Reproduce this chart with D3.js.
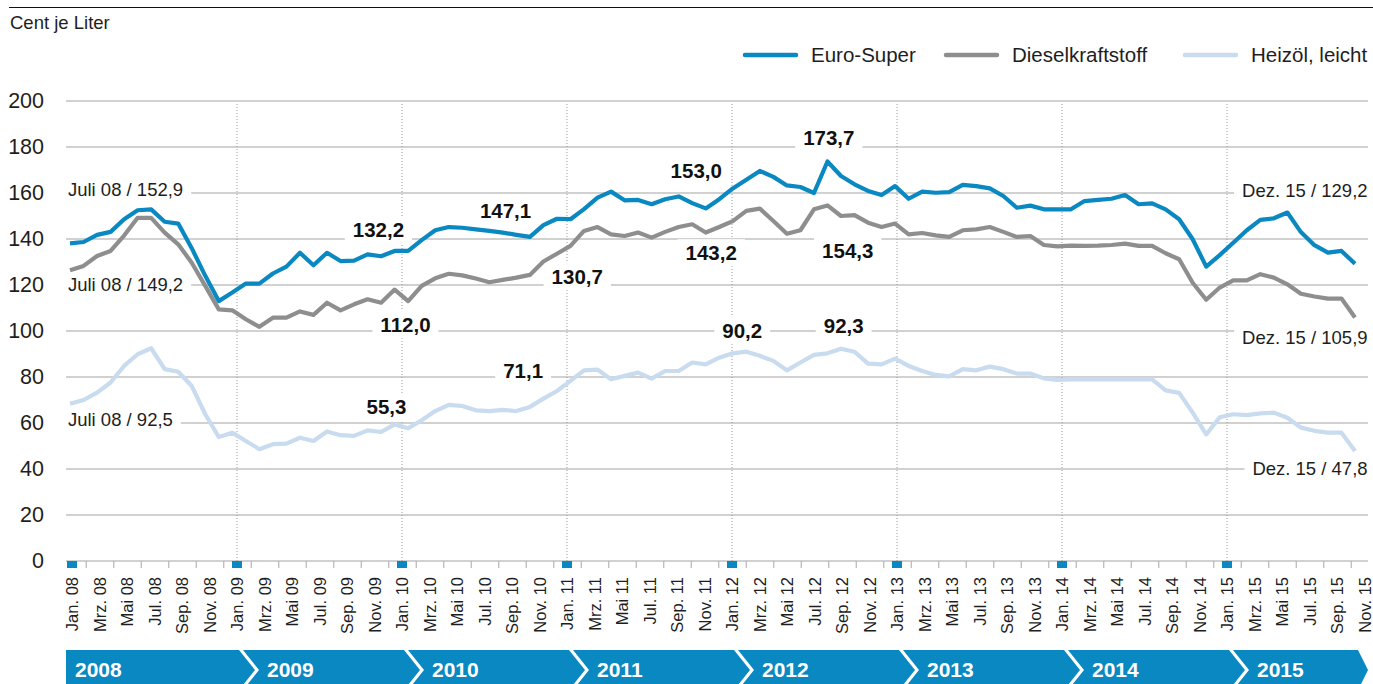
<!DOCTYPE html>
<html>
<head>
<meta charset="utf-8">
<script src="https://cdn.jsdelivr.net/npm/d3@7"></script>
<style>
  body { margin: 0; background: #fff; }
  svg { display: block; }
  svg text { font-family: 'Liberation Sans', Arial, sans-serif; }
</style>
</head>
<body>
<div id="chart"></div>
<script>
'use strict'

// Monatswerte Jan. 08 bis Dez. 15, Cent je Liter
const euroSuper = [
    138.1, 138.7, 141.8, 143.1, 148.6, 152.5, 152.9, 147.5, 146.7, 136.0, 124.0, 113.0,
    116.7, 120.6, 120.6, 125.0, 128.0, 134.0, 128.6, 134.0, 130.4, 130.6, 133.3, 132.5,
    134.8, 134.8, 139.5, 143.8, 145.2, 144.9, 144.2, 143.5, 142.8, 141.8, 140.9, 146.0,
    148.8, 148.6, 153.0, 158.0, 160.6, 156.8, 157.0, 155.1, 157.3, 158.5, 155.6, 153.3,
    157.3, 162.0, 165.8, 169.6, 167.0, 163.3, 162.6, 160.0, 173.7, 167.4, 163.8, 160.9,
    159.1, 163.0, 157.5, 160.6, 160.1, 160.4, 163.5, 163.0, 162.0, 158.7, 153.6, 154.5,
    152.9, 152.9, 152.9, 156.5, 157.0, 157.5, 159.1, 155.1, 155.5, 152.9, 148.6, 139.9,
    128.0, 133.0, 138.4, 143.8, 148.3, 149.0, 151.5, 143.0, 137.3, 134.1, 134.8, 129.2
]

const diesel = [
    126.4, 128.3, 132.6, 134.8, 141.5, 149.2, 149.2, 142.8, 137.7, 129.7, 119.6, 109.4,
    109.0, 105.1, 101.8, 105.8, 105.8, 108.5, 107.0, 112.3, 109.0, 111.6, 113.8, 112.3,
    118.0, 113.0, 119.6, 122.9, 124.9, 124.2, 122.8, 121.2, 122.2, 123.2, 124.4, 130.2,
    133.6, 137.0, 143.5, 145.2, 142.0, 141.3, 142.8, 140.6, 143.1, 145.2, 146.4, 142.8,
    145.2, 147.8, 152.2, 153.2, 147.8, 142.3, 143.8, 152.9, 154.6, 150.0, 150.4, 147.1,
    145.2, 146.7, 142.0, 142.6, 141.6, 140.9, 143.8, 144.2, 145.2, 143.1, 140.9, 141.3,
    137.4, 136.8, 137.1, 137.0, 137.1, 137.4, 138.0, 137.0, 137.0, 133.8, 131.2, 121.0,
    113.6, 118.9, 122.0, 122.0, 124.7, 123.2, 120.3, 116.2, 115.0, 114.1, 114.1, 105.9
]

const heizoel = [
    68.4, 70.0, 73.2, 77.6, 84.8, 89.9, 92.5, 83.4, 82.3, 76.1, 63.8, 53.9,
    55.8, 52.2, 48.6, 50.8, 51.0, 53.6, 52.2, 56.3, 54.7, 54.4, 56.8, 56.1,
    59.4, 57.7, 61.2, 65.2, 67.9, 67.4, 65.5, 65.2, 65.7, 65.2, 67.0, 70.6,
    73.9, 78.3, 82.9, 83.2, 79.0, 80.5, 81.9, 79.3, 82.6, 82.6, 86.3, 85.5,
    88.4, 90.3, 91.0, 89.2, 87.0, 82.9, 86.3, 89.6, 90.3, 92.3, 91.0, 85.8,
    85.5, 88.0, 84.8, 82.6, 80.9, 80.3, 83.4, 82.9, 84.5, 83.4, 81.5, 81.5,
    79.4, 78.7, 79.0, 79.0, 79.0, 79.0, 79.0, 79.0, 79.0, 74.2, 73.1, 64.5,
    55.0, 62.5, 63.8, 63.4, 64.2, 64.5, 62.3, 58.0, 56.6, 55.8, 55.8, 47.8
]

const seriesNames = ['Euro-Super', 'Dieselkraftstoff', 'Heizöl, leicht']
const monthNames = ['Jan.', 'Mrz.', 'Mai', 'Jul.', 'Sep.', 'Nov.']
const yearShort = ['08', '09', '10', '11', '12', '13', '14', '15']
const years = ['2008', '2009', '2010', '2011', '2012', '2013', '2014', '2015']
const yTicks = [0, 20, 40, 60, 80, 100, 120, 140, 160, 180, 200]

// Beschriftungen im Diagramm: Monat (Index) und Wert als Ankerpunkt
const notes = [
    { text: 'Juli 08 / 152,9', m: -0.15, v: 161.7, bold: false, anchor: 'start' },
    { text: 'Juli 08 / 149,2', m: -0.15, v: 120.4, bold: false, anchor: 'start' },
    { text: 'Juli 08 / 92,5', m: -0.15, v: 61.3, bold: false, anchor: 'start' },
    { text: '132,2', m: 22.8, v: 143.9, bold: true, anchor: 'middle' },
    { text: '112,0', m: 24.8, v: 102.6, bold: true, anchor: 'middle' },
    { text: '55,3', m: 23.4, v: 66.9, bold: true, anchor: 'middle' },
    { text: '147,1', m: 32.2, v: 152.2, bold: true, anchor: 'middle' },
    { text: '130,7', m: 37.5, v: 123.5, bold: true, anchor: 'middle' },
    { text: '71,1', m: 33.5, v: 82.6, bold: true, anchor: 'middle' },
    { text: '153,0', m: 46.3, v: 169.6, bold: true, anchor: 'middle' },
    { text: '143,2', m: 47.4, v: 133.9, bold: true, anchor: 'middle' },
    { text: '90,2', m: 49.7, v: 100.0, bold: true, anchor: 'middle' },
    { text: '173,7', m: 56.1, v: 183.9, bold: true, anchor: 'middle' },
    { text: '154,3', m: 57.5, v: 134.8, bold: true, anchor: 'middle' },
    { text: '92,3', m: 57.2, v: 102.2, bold: true, anchor: 'middle' },
    { text: 'Dez. 15 / 129,2', m: 95.93, v: 160.9, bold: false, anchor: 'end' },
    { text: 'Dez. 15 / 105,9', m: 95.93, v: 97.0, bold: false, anchor: 'end' },
    { text: 'Dez. 15 / 47,8', m: 95.93, v: 40.4, bold: false, anchor: 'end' }
]

const width = 1373,
    height = 684,
    blue = '#0a88c1',
    grey = '#8e8e8e',
    light = '#c8dbef',
    ink = '#1e1e1e',
    gridLeft = 66,
    gridRight = 1368

const colors = [blue, grey, light]
const series = [euroSuper, diesel, heizoel]

const svg = d3.select('#chart')
    .append('svg')
    .attr('width', width)
    .attr('height', height)

const y = d3.scaleLinear().domain([0, 200]).range([561, 101])
// data points and the month labels sit on slightly different spacings in the original
const x = d3.scaleLinear().domain([0, 95]).range([70, 1355])
const xTick = d3.scaleLinear().domain([0, 94]).range([72, 72 + 94 * 13.75])

// top rule and unit
svg.append('line')
    .attr('x1', 9).attr('x2', width)
    .attr('y1', 7.5).attr('y2', 7.5)
    .attr('stroke', '#111')
    .attr('stroke-width', 1.2)

svg.append('text')
    .attr('x', 10).attr('y', 29)
    .attr('font-size', 18.5)
    .attr('fill', ink)
    .text('Cent je Liter')

// legend
const legendX = [745, 946, 1185]
const legend = svg.append('g')
    .selectAll('g')
    .data(seriesNames)
    .join('g')
    .attr('transform', (d, i) => `translate(${legendX[i]},55)`)

legend.append('line')
    .attr('x1', 0).attr('x2', 51)
    .attr('stroke', (d, i) => colors[i])
    .attr('stroke-width', 4.5)
    .attr('stroke-linecap', 'round')

legend.append('text')
    .attr('x', 66).attr('dy', '0.35em')
    .attr('font-size', 20.5)
    .attr('fill', ink)
    .text(d => d)

// horizontal grid
svg.append('g')
    .selectAll('line')
    .data(yTicks)
    .join('line')
    .attr('x1', gridLeft).attr('x2', gridRight)
    .attr('y1', d => y(d)).attr('y2', d => y(d))
    .attr('stroke', '#c2c2c2')
    .attr('stroke-width', 1.5)

// y axis labels
const yAxis = svg.append('g')
    .attr('transform', 'translate(44,0)')
    .call(d3.axisLeft(y).tickValues(yTicks).tickSize(0).tickPadding(0))
yAxis.select('.domain').remove()
yAxis.selectAll('text')
    .attr('font-size', 21.5)
    .attr('fill', ink)

// dotted year separators
const janIdx = d3.range(12, 95, 12)
svg.append('g')
    .selectAll('line')
    .data(janIdx)
    .join('line')
    .attr('x1', d => xTick(d)).attr('x2', d => xTick(d))
    .attr('y1', y(200) + 3).attr('y2', y(0))
    .attr('stroke', '#9a9a9a')
    .attr('stroke-width', 1)
    .attr('stroke-dasharray', '1,2')

// month ticks between the labels
const minorAxis = svg.append('g')
    .attr('transform', `translate(0,${y(0)})`)
    .call(d3.axisBottom(xTick).tickValues(d3.range(1, 95, 2)).tickSize(7).tickFormat(''))
minorAxis.select('.domain').remove()
minorAxis.selectAll('line').attr('stroke', '#b5b5b5').attr('stroke-width', 1.2)

// blue markers at January
svg.append('g')
    .selectAll('rect')
    .data(d3.range(0, 95, 12))
    .join('rect')
    .attr('x', d => xTick(d) - 5)
    .attr('y', y(0))
    .attr('width', 10)
    .attr('height', 7)
    .attr('fill', blue)

// month labels
const labelAxis = svg.append('g')
    .attr('transform', `translate(0,${y(0)})`)
    .call(d3.axisBottom(xTick)
        .tickValues(d3.range(0, 95, 2))
        .tickSize(0)
        .tickFormat(i => `${monthNames[(i / 2) % 6]} ${yearShort[Math.floor(i / 12)]}`))
labelAxis.select('.domain').remove()
labelAxis.selectAll('text')
    .attr('font-size', 16.5)
    .attr('fill', ink)
    .attr('text-anchor', 'end')
    .attr('transform', 'rotate(-90)')
    .attr('x', -16)
    .attr('y', 0)
    .attr('dy', '0.36em')

// year band with chevrons
const barTop = 650,
    barBottom = 690,
    barMid = (barTop + barBottom) / 2

const band = svg.append('g')
    .selectAll('g')
    .data(years)
    .join('g')

band.append('path')
    .attr('fill', blue)
    .attr('d', (d, k) => {
        const left = k === 0 ? gridLeft : xTick(12 * k) + 6
        const right = k === years.length - 1 ? 1358 : xTick(12 * (k + 1)) + 2
        const tip = k === years.length - 1 ? 10 : 16
        const pts = [[left, barTop], [right, barTop], [right + tip, barMid], [right, barBottom], [left, barBottom]]
        if (k > 0) pts.push([left + 16, barMid])
        return d3.line()(pts) + 'Z'
    })

band.append('text')
    .attr('x', (d, k) => k === 0 ? gridLeft + 9 : xTick(12 * k) + 30)
    .attr('y', 677)
    .attr('font-size', 21)
    .attr('font-weight', 'bold')
    .attr('fill', '#fff')
    .text(d => d)

// annotations with white knock-out behind them
const noteG = svg.append('g')
notes.forEach(n => {
    const g = noteG.append('g')
    const t = g.append('text')
        .attr('x', x(n.m))
        .attr('y', y(n.v))
        .attr('dy', '0.35em')
        .attr('text-anchor', n.anchor)
        .attr('font-size', n.bold ? 20.5 : 18.5)
        .attr('font-weight', n.bold ? 'bold' : 'normal')
        .attr('fill', n.bold ? '#111' : ink)
        .text(n.text)
    const b = t.node().getBBox()
    g.insert('rect', 'text')
        .attr('x', b.x - 8)
        .attr('y', b.y - 2)
        .attr('width', b.width + 16)
        .attr('height', b.height + 4)
        .attr('fill', '#fff')
})

// the three price lines
const line = d3.line()
    .x((d, i) => x(i))
    .y(d => y(d))

svg.append('g')
    .selectAll('path')
    .data(series.slice().reverse())
    .join('path')
    .attr('d', line)
    .attr('fill', 'none')
    .attr('stroke', (d, i) => colors[colors.length - 1 - i])
    .attr('stroke-width', 4.2)
    .attr('stroke-linejoin', 'round')
</script>
</body>
</html>
